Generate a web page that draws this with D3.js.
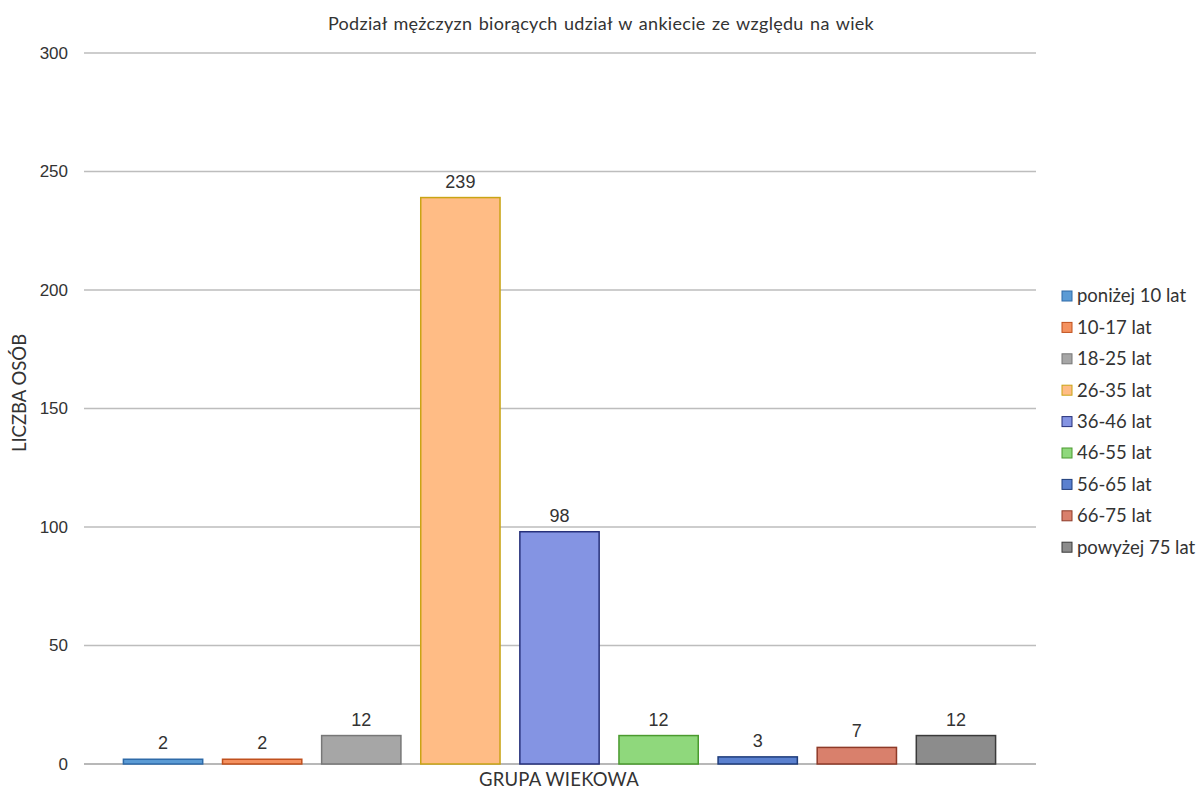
<!DOCTYPE html>
<html><head><meta charset="utf-8">
<script src="https://cdn.jsdelivr.net/npm/d3@7"></script>
<style>body{margin:0;background:#fff}</style>
</head><body>
<svg id="c" width="1200" height="792"></svg>
<script>
const categories = ["poniżej 10 lat","10-17 lat","18-25 lat","26-35 lat","36-46 lat","46-55 lat","56-65 lat","66-75 lat","powyżej 75 lat"];
const values = [2,2,12,239,98,12,3,7,12];
const yTicks = [0,50,100,150,200,250,300];
const fills = ["#5b9bd5","#f4915f","#a6a6a6","#ffbc85","#8494e3","#8fd87c","#5a80cf","#d9806c","#8c8c8c"];
const strokes = ["#2e6aa8","#c0501d","#777777","#c9a414","#26307a","#4a9a2e","#1f3c7a","#8e3a28","#3a3a3a"];
const title = "Podział mężczyzn biorących udział w ankiecie ze względu na wiek";

const svg = d3.select("#c");
const y = d3.scaleLinear().domain([0,300]).range([764,53]);
const x = d3.scaleBand().domain(categories).range([113.5,1005.5]).paddingInner(0.2).paddingOuter(0.1);

// gridlines
svg.append("g").selectAll("line").data(yTicks).join("line")
  .attr("x1",84).attr("x2",1036)
  .attr("y1",d=>y(d)).attr("y2",d=>y(d))
  .attr("stroke",d=>d===0?"#a0a0a0":"#bdbdbd").attr("stroke-width",1.3);

// tick labels
svg.append("g").selectAll("text").data(yTicks).join("text")
  .attr("x",68).attr("y",d=>y(d)).attr("dy","0.35em")
  .attr("text-anchor","end").attr("font-family","Liberation Sans, Arial, sans-serif")
  .attr("font-size",17).attr("fill","#333").text(d=>d);

// bars
const bw = x.bandwidth();
svg.append("g").selectAll("rect").data(values).join("rect")
  .attr("x",(d,i)=>x(categories[i])).attr("width",bw)
  .attr("y",d=>y(d)).attr("height",d=>y(0)-y(d))
  .attr("fill",(d,i)=>fills[i]).attr("stroke",(d,i)=>strokes[i]).attr("stroke-width",1.5);

// value labels
svg.append("g").selectAll("text").data(values).join("text")
  .attr("x",(d,i)=>x(categories[i])+bw/2).attr("y",d=>y(d)-10)
  .attr("text-anchor","middle").attr("font-family","Liberation Sans, Arial, sans-serif")
  .attr("font-size",18).attr("fill","#333").text(d=>d);

// title
svg.append("text").attr("x",601).attr("y",30).attr("text-anchor","middle")
  .attr("font-family","Lato, sans-serif").attr("font-size",18).attr("letter-spacing",0.3).attr("word-spacing",1.5)
  .attr("fill","#333").text(title);

// axis titles
svg.append("text").attr("x",559).attr("y",786).attr("text-anchor","middle")
  .attr("font-family","Lato, sans-serif").attr("font-size",18.5).attr("letter-spacing",0.2).attr("fill","#333").text("GRUPA WIEKOWA");
svg.append("text").attr("transform","translate(26,393) rotate(-90)").attr("text-anchor","middle")
  .attr("font-family","Lato, sans-serif").attr("font-size",18.5).attr("fill","#333").text("LICZBA OSÓB");

// legend
const lg = svg.append("g").selectAll("g").data(categories).join("g")
  .attr("transform",(d,i)=>`translate(1062,${296+i*31.4})`);
lg.append("rect").attr("x",0).attr("y",-5).attr("width",10).attr("height",10)
  .attr("fill",(d,i)=>fills[i]).attr("stroke",(d,i)=>strokes[i]).attr("stroke-width",1);
lg.append("text").attr("x",15).attr("y",0).attr("dy","0.35em")
  .attr("font-family","Lato, sans-serif").attr("font-size",18.5).attr("fill","#333").text(d=>d);
</script>
</body></html>
